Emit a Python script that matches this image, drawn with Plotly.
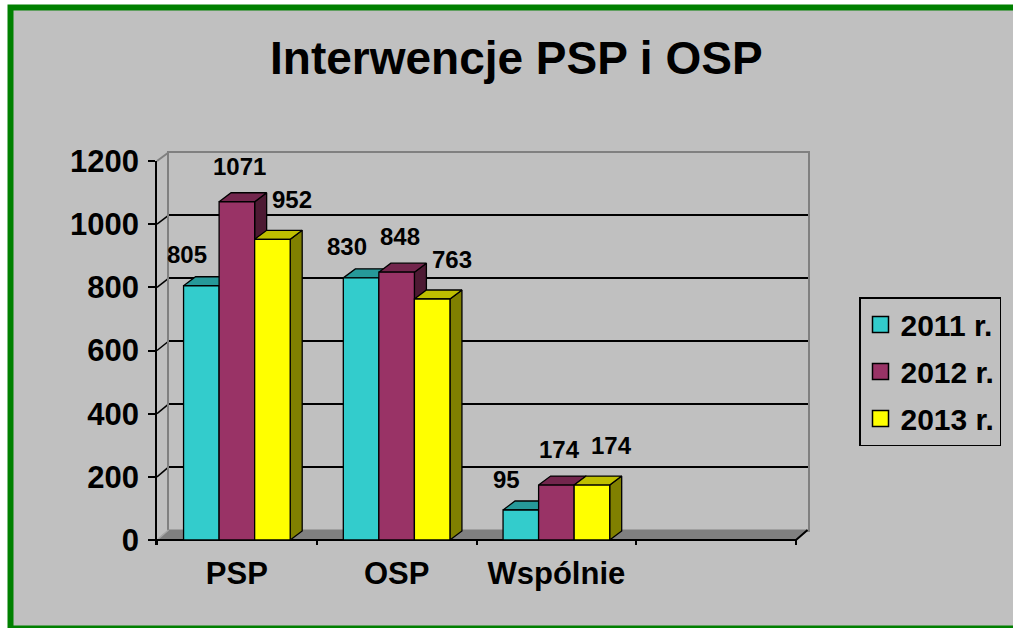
import plotly.graph_objects as go

# ---------------- data ----------------
categories = ["PSP", "OSP", "Wspólnie", ""]
series_names = ["2011 r.", "2012 r.", "2013 r."]
values_2011 = [805, 830, 95]
values_2012 = [1071, 848, 174]
values_2013 = [952, 763, 174]
y_ticks = [0, 200, 400, 600, 800, 1000, 1200]
title_text = "Interwencje PSP i OSP"

series_values = [values_2011, values_2012, values_2013]

# ---------------- style ----------------
W, H = 1013, 628
FONT = "Arial, 'Liberation Sans', sans-serif"
BG = "#C0C0C0"
front_colors = ["#33CCCC", "#993366", "#FFFF00"]
top_colors = ["#269999", "#73264D", "#BFBF00"]
side_colors = ["#1A6666", "#4D1A33", "#808000"]

# pixel geometry of the pseudo-3D box
FX0, FX1 = 157.0, 796.0      # front x axis: x=0 .. x=n_cat
FY0, FY1 = 540.0, 161.0      # front y axis: 0 .. 1200
BX0, BX1 = 168.5, 807.5      # back wall x extent
BY0, BY1 = 530.0, 152.5      # back wall y: 0 .. 1200
BAR_DX_PX, BAR_DY_PX = 12.0, 9.0

n_cat = len(categories)
ymax = y_ticks[-1]
px_per_x = (FX1 - FX0) / n_cat
px_per_y = (FY0 - FY1) / ymax
bar_w = 0.2225
DX = BAR_DX_PX / px_per_x
DY = BAR_DY_PX / px_per_y

ymin_front = -15.0
front_right_px = BX1 + 2
front_xmax = (front_right_px - FX0) / px_per_x
front_bottom_px = FY0 - ymin_front * px_per_y


def pxx(x):
    return x / W


def pxy(y):
    return 1 - y / H


fig = go.Figure()

# back wall subplot (x / y) : only gridlines and wall edges
fig.add_trace(go.Scatter(x=[None], y=[None], xaxis="x", yaxis="y",
                         showlegend=False, hoverinfo="skip"))

# floor (in front subplot coords)
floor_xb0 = (BX0 - FX0) / px_per_x
floor_xb1 = (BX1 - FX0) / px_per_x
floor_yb = (FY0 - BY0) / px_per_y
fig.add_trace(go.Scatter(
    x=[0, n_cat, floor_xb1, floor_xb0, 0], y=[0, 0, floor_yb, floor_yb, 0],
    xaxis="x2", yaxis="y2", mode="lines", fill="toself", fillcolor="#808080",
    line=dict(color="#808080", width=1), showlegend=False, hoverinfo="skip"))
fig.add_trace(go.Scatter(
    x=[0, floor_xb0], y=[0, floor_yb], xaxis="x2", yaxis="y2", mode="lines",
    line=dict(color="#A8A8A8", width=1.5), showlegend=False, hoverinfo="skip"))
fig.add_trace(go.Scatter(
    x=[0, n_cat, floor_xb1], y=[0, 0, floor_yb], xaxis="x2", yaxis="y2",
    mode="lines", line=dict(color="black", width=2), showlegend=False,
    hoverinfo="skip"))

# bars: side, top, front per bar, painted left to right
annotations = []
for ci in range(len(values_2011)):
    for j, vals in enumerate(series_values):
        v = vals[ci]
        x0 = ci + 0.5 + (j - 1.5) * bar_w
        x1 = x0 + bar_w
        edge = dict(color="black", width=1.3)
        fig.add_trace(go.Scatter(
            x=[x1, x1, x1 + DX, x1 + DX, x1], y=[0, v, v + DY, DY, 0],
            xaxis="x2", yaxis="y2", mode="lines", fill="toself",
            fillcolor=side_colors[j], line=edge, showlegend=False,
            hoverinfo="skip"))
        fig.add_trace(go.Scatter(
            x=[x0, x1, x1 + DX, x0 + DX, x0], y=[v, v, v + DY, v + DY, v],
            xaxis="x2", yaxis="y2", mode="lines", fill="toself",
            fillcolor=top_colors[j], line=edge, showlegend=False,
            hoverinfo="skip"))
        fig.add_trace(go.Scatter(
            x=[x0, x1, x1, x0, x0], y=[0, 0, v, v, 0],
            xaxis="x2", yaxis="y2", mode="lines", fill="toself",
            fillcolor=front_colors[j], line=edge, showlegend=False,
            name=series_names[j],
            hovertemplate=categories[ci] + "<br>" + series_names[j] + ": %{text}<extra></extra>",
            text=[v] * 5))
        annotations.append(dict(
            x=(x0 + x1) / 2, y=v, xref="x2", yref="y2", text=str(v),
            showarrow=False, xanchor="center", yanchor="middle",
            xshift=(j - 1) * 17 + 3, yshift=31 + 4.5 * j,
            font=dict(family=FONT, size=24, color="black", weight="bold")))

# legend entries
for j, name in enumerate(series_names):
    fig.add_trace(go.Scatter(
        x=[None], y=[None], xaxis="x2", yaxis="y2", mode="markers",
        name=name, legendgroup=name,
        marker=dict(symbol="square", size=16, color=front_colors[j],
                    line=dict(color="black", width=1.5))))

# title
annotations.append(dict(
    x=pxx(516.5), y=pxy(58), xref="paper", yref="paper", text=title_text,
    showarrow=False, xanchor="center", yanchor="middle",
    font=dict(family=FONT, size=46, color="black", weight="bold")))

shapes = [
    dict(type="rect", xref="paper", yref="paper", layer="below",
         x0=pxx(10.5), x1=pxx(W + 20), y0=pxy(7.5), y1=pxy(H + 0.5),
         fillcolor=BG, line=dict(color="#008000", width=6)),
]
# side wall connectors between front axis ticks and back wall gridlines
for v in y_ticks:
    if v == 0:
        continue
    yf = FY0 - v * px_per_y
    yb = BY0 - v * (BY0 - BY1) / ymax
    col = "black" if v < ymax else "#808080"
    shapes.append(dict(type="line", xref="paper", yref="paper", layer="below",
                       x0=pxx(FX0), y0=pxy(yf), x1=pxx(BX0), y1=pxy(yb),
                       line=dict(color=col, width=1.5 if col == "black" else 2)))

fig.update_layout(
    width=W, height=H,
    autosize=False,
    margin=dict(l=0, r=0, t=0, b=0, pad=0, autoexpand=False),
    paper_bgcolor="white",
    plot_bgcolor="rgba(0,0,0,0)",
    showlegend=True,
    shapes=shapes,
    annotations=annotations,
    xaxis=dict(domain=[pxx(BX0), pxx(BX1)], range=[0, n_cat], anchor="y",
               showgrid=False, zeroline=False, showticklabels=False,
               ticks="", showline=True, mirror=True, linecolor="#808080",
               linewidth=2, fixedrange=True),
    yaxis=dict(domain=[pxy(BY0), pxy(BY1)], range=[0, ymax], anchor="x",
               tickvals=y_ticks, showgrid=True, gridcolor="black",
               gridwidth=1.5, zeroline=False, showticklabels=False, ticks="",
               showline=True, mirror=True, linecolor="#808080", linewidth=2,
               fixedrange=True),
    xaxis2=dict(domain=[pxx(FX0), pxx(front_right_px)], range=[0, front_xmax],
                anchor="y2", showgrid=False, zeroline=False, showline=False,
                tickvals=[i + 0.5 for i in range(n_cat)], ticktext=categories,
                ticks="", ticklabelstandoff=7,
                minor=dict(tickvals=list(range(n_cat + 1)), ticks="inside",
                           ticklen=5, tickwidth=1.5, tickcolor="black",
                           showgrid=False),
                tickfont=dict(family=FONT, size=31, color="black", weight="bold"),
                fixedrange=True),
    yaxis2=dict(domain=[pxy(front_bottom_px), pxy(FY1)], range=[ymin_front, ymax],
                anchor="x2", showgrid=False, zeroline=False, showline=True,
                linecolor="black", linewidth=1.5, tickvals=y_ticks,
                ticks="outside", ticklen=7, tickwidth=1.5, tickcolor="black",
                ticklabelstandoff=3,
                tickfont=dict(family=FONT, size=31, color="black", weight="bold"),
                fixedrange=True),
    legend=dict(x=pxx(859), y=pxy(297), xanchor="left", yanchor="top",
                bgcolor=BG, bordercolor="black", borderwidth=1.5,
                font=dict(family=FONT, size=30, color="black", weight="bold"),
                tracegroupgap=5, traceorder="grouped", itemsizing="trace",
                entrywidth=117, entrywidthmode="pixels"),
    hovermode="closest",
)

fig.write_html(
    "out.html",
    config={"displayModeBar": False},
    post_script="document.body.style.margin='0';document.body.style.overflow='hidden';",
)
